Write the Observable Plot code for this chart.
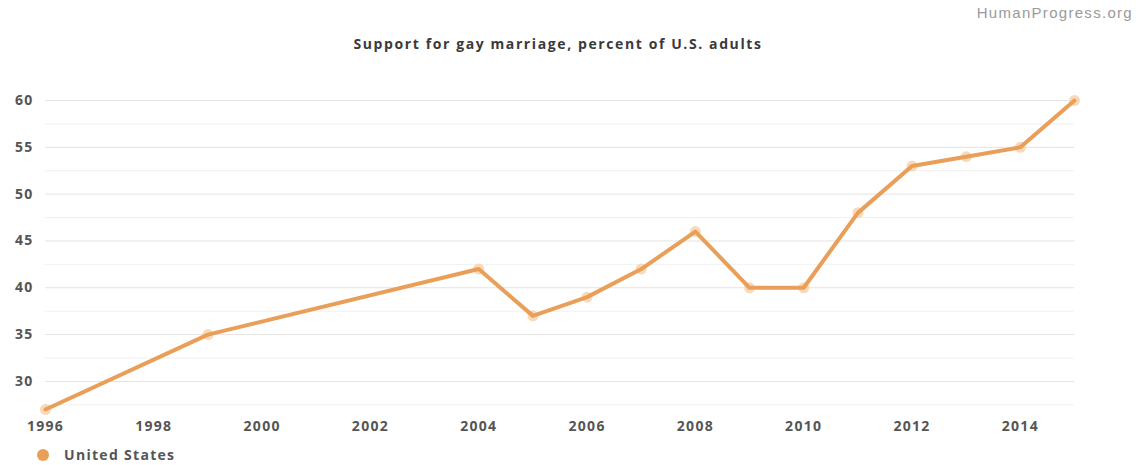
<!DOCTYPE html>
<html>
<head>
<meta charset="utf-8">
<script src="https://cdn.jsdelivr.net/npm/d3@7"></script>
<script src="https://cdn.jsdelivr.net/npm/@observablehq/plot@0.6"></script>
<style>
  body { margin: 0; background: #fff; width: 1141px; height: 465px; position: relative; overflow: hidden; font-family: "Open Sans", sans-serif; }
  #wm { position: absolute; top: 4px; right: 8px; font-family: "Liberation Sans", Arial, sans-serif; font-size: 15px; letter-spacing: 1.3px; color: #9a9a9a; }
  #title { position: absolute; top: 34px; left: 0; width: 1116px; text-align: center; font-size: 14px; letter-spacing: 1.6px; font-weight: 700; color: #3a3a3a; }
  #chart { position: absolute; top: 62px; left: 0; }
  #legend { position: absolute; top: 445px; left: 37px; font-size: 14px; letter-spacing: 1.3px; font-weight: 700; color: #555; display: flex; align-items: center; }
  #legend .dot { width: 12px; height: 12px; border-radius: 50%; background: #E99F58; margin-right: 15px; }
</style>
</head>
<body>
<div id="wm">HumanProgress.org</div>
<div id="title">Support for gay marriage, percent of U.S. adults</div>
<div id="chart"></div>
<div id="legend"><span class="dot"></span><span id="legendLabel"></span></div>
<script>
const seriesName = "United States";
const years = [1996, 1999, 2004, 2005, 2006, 2007, 2008, 2009, 2010, 2011, 2012, 2013, 2014, 2015];
const support = [27, 35, 42, 37, 39, 42, 46, 40, 40, 48, 53, 54, 55, 60];
const xTicks = [1996, 1998, 2000, 2002, 2004, 2006, 2008, 2010, 2012, 2014];
const yTicks = [30, 35, 40, 45, 50, 55, 60];
const yMinorTicks = [27.5, 32.5, 37.5, 42.5, 47.5, 52.5, 57.5];

const data = years.map((y, i) => ({year: y, value: support[i]}));
document.getElementById("legendLabel").textContent = seriesName;

const color = "#E99F58";
const chart = Plot.plot({
  width: 1141,
  height: 382,
  marginLeft: 45,
  marginRight: 67,
  marginTop: 38,
  marginBottom: 35,
  style: {fontFamily: "Open Sans, sans-serif", fontSize: "14px", fontWeight: "700", letterSpacing: "1.3px", color: "#555", background: "transparent", overflow: "visible"},
  x: {domain: [1996, 2015], ticks: xTicks, tickFormat: d => String(d), tickSize: 0, tickPadding: 12, label: null},
  y: {domain: [27, 60], ticks: yTicks, tickSize: 0, tickPadding: 12, label: null},
  marks: [
    Plot.ruleY(yMinorTicks, {stroke: "#f1f1f1", strokeWidth: 1}),
    Plot.ruleY(yTicks, {stroke: "#e3e3e3", strokeWidth: 1}),
    Plot.dot(data, {x: "year", y: "value", r: 5.5, fill: "#f6cfa8", fillOpacity: 0.8, stroke: "none"}),
    Plot.line(data, {x: "year", y: "value", stroke: color, strokeWidth: 4, strokeLinejoin: "round", strokeLinecap: "round"})
  ]
});
document.getElementById("chart").appendChild(chart);
</script>
</body>
</html>
